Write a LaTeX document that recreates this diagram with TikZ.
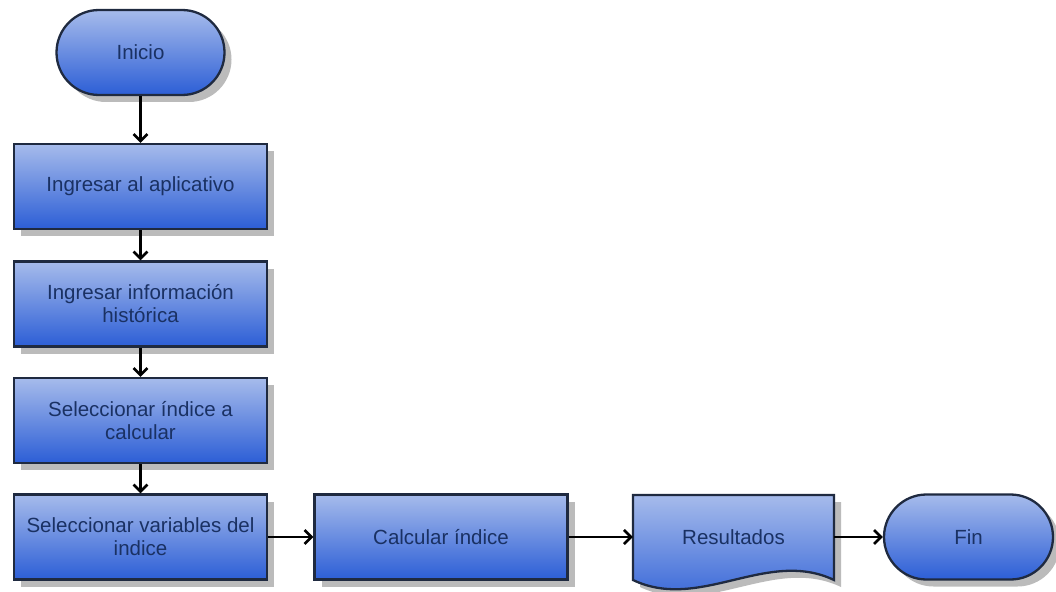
\documentclass[tikz,border=0pt]{standalone}
\usepackage{fontspec}
\setmainfont{Liberation Sans}
\usetikzlibrary{shapes.misc,shadows,arrows.meta}
\definecolor{topblue}{HTML}{A6BBEB}
\definecolor{botblue}{HTML}{2C5ED6}
\definecolor{edgecol}{HTML}{1F2A40}
\definecolor{txtcol}{HTML}{1A3163}
\definecolor{shadcol}{HTML}{BBBBBB}
\begin{document}
\begin{tikzpicture}[x=1pt,y=-1pt,
  shadowed/.style={drop shadow={shadow xshift=7pt,shadow yshift=-7pt,fill=shadcol,opacity=1}},
  filled/.style={draw=edgecol,line width=2.3pt,top color=topblue,bottom color=botblue},
  base/.style={filled,shadowed,text=txtcol,font=\fontsize{20.5}{23}\selectfont,align=center,inner sep=0pt},
  procbox/.style={base,rectangle,minimum width=253pt,minimum height=85pt},
  term/.style={base,rounded rectangle,minimum width=168pt,minimum height=85pt},
  doclabel/.style={text=txtcol,font=\fontsize{20.5}{23}\selectfont,align=center,inner sep=0pt,minimum width=201pt,minimum height=85pt},
  flow/.style={-{Straight Barb[length=7pt,width=14pt,line width=2.6pt]},line width=2.8pt,black}]
\useasboundingbox (0,0) rectangle (1056,591);
\node[term] (inicio) at (140.5,52.5) {Inicio};
\node[procbox] (b1) at (140.5,186.5) {Ingresar al aplicativo};
\node[procbox] (b2) at (140.5,304) {Ingresar información\\histórica};
\node[procbox] (b3) at (140.5,420.5) {Seleccionar índice a\\calcular};
\node[procbox] (b4) at (140.5,537) {Seleccionar variables del\\indice};
\node[procbox] (calc) at (441,537) {Calcular índice};
% document shape
\path[filled,shadowed] (633,495) -- (834,495) -- (834,580)
  .. controls (767,548) and (700,612) .. (633,580) -- cycle;
\node[doclabel] (res) at (733.5,537) {Resultados};
\node[term,minimum width=169pt] (fin) at (968.5,537) {Fin};
\draw[flow] (inicio) -- (b1);
\draw[flow] (b1) -- (b2);
\draw[flow] (b2) -- (b3);
\draw[flow] (b3) -- (b4);
\draw[flow] (b4) -- (calc);
\draw[flow] (calc) -- (res);
\draw[flow] (res) -- (fin);
\end{tikzpicture}
\end{document}
